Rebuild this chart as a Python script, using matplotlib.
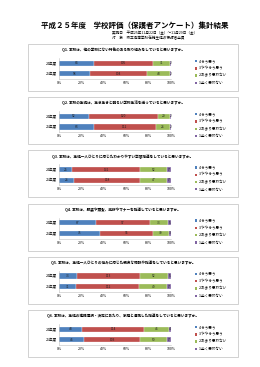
import matplotlib
matplotlib.use("Agg")
import matplotlib.pyplot as plt
from matplotlib.patches import Rectangle
import numpy as np

plt.rcParams['font.family'] = ['Noto Sans CJK JP', 'DejaVu Sans']

W, H = 260, 367

title = "平成２５年度　学校評価（保護者アンケート）集計結果"
sub1 = "実施日　平成25年11月22日（金）～11月29日（金）"
sub2 = "対　象　県立高等学校在籍生徒の保護者全員"

years = ["24年度", "25年度"]
answers = ["4:そう思う", "3:ややそう思う", "2:あまり思わない", "1:全く思わない"]
colors = ["#4F81BD", "#C0504D", "#9BBB59", "#8064A2"]

questions = [
    "Q1. 本校は、他の学校にない特色のある取り組みをしていると思いますか。",
    "Q2. 本校の生徒は、生き生きと明るい学校生活を送っていると思いますか。",
    "Q3. 本校は、生徒一人ひとりに応じたわかりやすい学習指導をしていると思いますか。",
    "Q4. 本校は、服装や頭髪、挨拶やマナーを指導していると思いますか。",
    "Q5. 本校は、生徒一人ひとりの悩みに応じた親身な相談や指導をしていると思いますか。",
    "Q6. 本校は、生徒の進路選択・決定にあたり、家庭と連携した指導をしていると思いますか。",
]

# counts per question: [24年度, 25年度], each [4,3,2,1]
q1 = [[64, 105, 31, 2], [58, 104, 43, 2]]
q2 = [[52, 120, 20, 2], [63, 112, 26, 2]]
q3 = [[25, 131, 52, 7], [26, 118, 47, 7]]
q4 = [[67, 97, 33, 5], [75, 96, 30, 3]]
q5 = [[33, 113, 52, 5], [31, 112, 49, 7]]
q6 = [[43, 114, 46, 4], [46, 103, 50, 7]]
all_counts = [q1, q2, q3, q4, q5, q6]


def fx(x):
    return x / W


def fy(y):
    return 1 - y / H


fig = plt.figure(figsize=(W / 100, H / 100), dpi=100)
fig.patch.set_facecolor("white")

fig.text(fx(135), fy(25), title, fontsize=5.4, fontweight="bold", ha="center", va="center")
fig.text(fx(112), fy(33), sub1, fontsize=2.6, ha="left", va="center")
fig.text(fx(112), fy(38.5), sub2, fontsize=2.6, ha="left", va="center")

for i, (q, counts) in enumerate(zip(questions, all_counts)):
    top = 44 + 53.2 * i
    # panel frame
    fig.patches.append(Rectangle((fx(28), fy(top + 47)), fx(210), 47 / H,
                                 transform=fig.transFigure, fill=False,
                                 edgecolor="#BFBFBF", linewidth=0.5))
    fig.text(fx(123), fy(top + 6), q, fontsize=2.6, fontweight="bold",
             ha="center", va="center")

    ax = fig.add_axes([fx(59), fy(top + 35), fx(112), 21 / H])
    arr = np.array(counts, dtype=float)
    pct = arr / arr.sum(axis=1, keepdims=True) * 100
    ypos = [1, 0]
    left = np.zeros(2)
    for k in range(4):
        ax.barh(ypos, pct[:, k], left=left, height=0.5, color=colors[k],
                edgecolor="white", linewidth=0.2, label=answers[k])
        for r in range(2):
            ax.text(left[r] + pct[r, k] / 2, ypos[r], str(counts[r][k]),
                    fontsize=2.3, ha="center", va="center", color="#1F1F1F")
        left += pct[:, k]

    ax.set_xlim(0, 100)
    ax.set_ylim(-0.5, 1.5)
    ax.set_xticks(range(0, 101, 20))
    ax.set_xticklabels([f"{v}%" for v in range(0, 101, 20)])
    ax.set_yticks(ypos)
    ax.set_yticklabels(years)
    ax.tick_params(labelsize=2.6, length=0, pad=1.5)
    ax.set_facecolor("white")
    for s in ["top", "right"]:
        ax.spines[s].set_visible(False)
    for s in ["left", "bottom"]:
        ax.spines[s].set_color("#BFBFBF")
        ax.spines[s].set_linewidth(0.4)

    # legend
    for k in range(4):
        ly = top + 17 + 7.3 * k
        fig.patches.append(Rectangle((fx(195), fy(ly + 1.2)), fx(2.4), 2.4 / H,
                                     transform=fig.transFigure,
                                     facecolor=colors[k], edgecolor="none"))
        fig.text(fx(198.5), fy(ly), answers[k], fontsize=2.6, ha="left", va="center")

fig.savefig("out.png", dpi=100, facecolor="white")
